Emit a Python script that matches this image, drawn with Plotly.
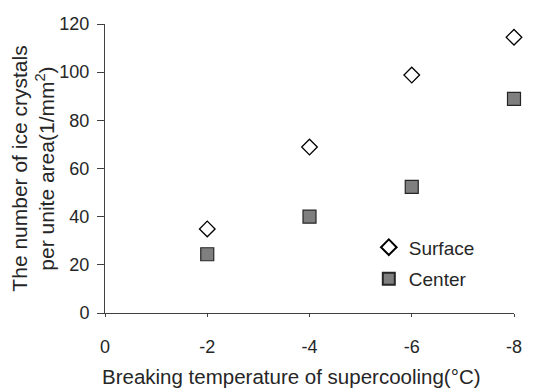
import plotly.graph_objects as go

temps = [-2, -4, -6, -8]
surface = [34.9, 68.9, 98.8, 114.5]
center = [24.4, 40.0, 52.4, 88.9]
x_ticks = [0, -2, -4, -6, -8]
y_ticks = [0, 20, 40, 60, 80, 100, 120]

FONT = "Liberation Sans, Arial, sans-serif"
AX = "#404040"

fig = go.Figure()
fig.add_trace(go.Scatter(
    x=temps, y=surface, mode="markers", name="Surface", legendgroup="s",
    marker=dict(symbol="diamond-open", size=12, color="#000000", line=dict(width=1.3)),
    cliponaxis=False,
))
fig.add_trace(go.Scatter(
    x=temps, y=center, mode="markers", name="Center", legendgroup="c",
    marker=dict(symbol="square", size=13, color="#7f7f7f", line=dict(color="#262626", width=1.2)),
    cliponaxis=False,
))

fig.update_layout(
    width=545, height=389,
    margin=dict(l=97, r=39, t=16, b=84),
    paper_bgcolor="white", plot_bgcolor="white",
    font=dict(family=FONT, size=18, color="#262626"),
    showlegend=True,
    legend=dict(x=0.645, y=0.293, xanchor="left", yanchor="top",
                bgcolor="rgba(0,0,0,0)", font=dict(size=19),
                itemsizing="constant", tracegroupgap=4),
    xaxis=dict(
        range=[0, -8], tickvals=x_ticks, ticktext=[str(v) for v in x_ticks],
        showgrid=False, zeroline=False, showline=True, linecolor=AX, linewidth=1,
        ticks="outside", ticklen=3, tickcolor=AX, ticklabelstandoff=14,
    ),
    yaxis=dict(
        range=[0, 120], tickvals=y_ticks,
        showgrid=False, zeroline=False, showline=True, linecolor=AX, linewidth=1,
        ticks="outside", ticklen=7, tickcolor=AX, ticklabelstandoff=4,
        title=dict(text="The number of ice crystals<br>per unite area(1/mm<sup>2</sup>)",
                   standoff=0, font=dict(size=21)),
        automargin=False,
    ),
    annotations=[dict(
        text="Breaking temperature of supercooling(°C)",
        xref="paper", yref="paper", x=0.456, y=-0.221,
        xanchor="center", yanchor="middle", showarrow=False,
        font=dict(size=20.5),
    )],
)

fig.write_html("out.html")
